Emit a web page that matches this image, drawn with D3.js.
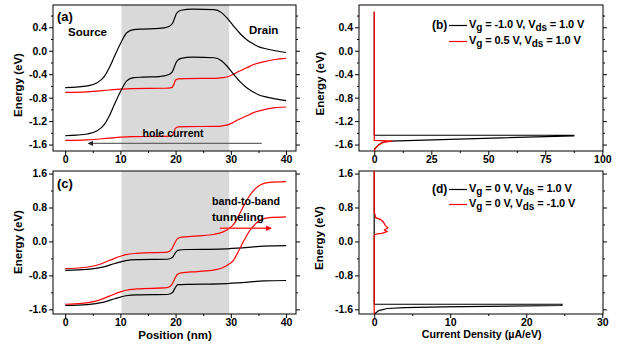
<html>

<head>
    <script src="https://cdn.jsdelivr.net/npm/d3@7"></script>
    <style>
        body { margin: 0; background: #fff; }
        text { font-family: "Liberation Sans", Arial, sans-serif; font-weight: bold; fill: #000; }
    </style>
</head>

<body></body>
<script>

    // ---- data ----
    // band edges vs position (nm, eV), panel (a)
    var aBlackCB = [[0,-0.63],[2,-0.62],[4,-0.60],[5.7,-0.55],[7,-0.45],[8.1,-0.27],[9,-0.08],[10,0.12],[11.2,0.31],[12.4,0.36],[14,0.37],[17,0.38],[18.7,0.41],[19.4,0.46],[19.8,0.55],[20.2,0.64],[21,0.69],[23,0.71],[27,0.70],[28.3,0.65],[29.3,0.56],[30.5,0.42],[31.7,0.29],[33,0.18],[34,0.12],[35,0.07],[36.5,0.03],[38,0.0],[40,-0.03]];
    var aBlackVB = [[0,-1.45],[2,-1.44],[4,-1.42],[5.7,-1.37],[7,-1.27],[8.1,-1.09],[9,-0.90],[10,-0.70],[11.2,-0.51],[12.4,-0.46],[14,-0.45],[17,-0.44],[18.7,-0.41],[19.4,-0.36],[19.8,-0.27],[20.2,-0.18],[21,-0.13],[23,-0.11],[27,-0.12],[28.3,-0.17],[29.3,-0.26],[30.5,-0.40],[31.7,-0.53],[33,-0.64],[34,-0.70],[35,-0.75],[36.5,-0.79],[38,-0.82],[40,-0.85]];
    var aRedCB = [[0,-0.71],[4,-0.70],[8,-0.67],[10,-0.655],[12,-0.645],[18,-0.64],[19.3,-0.63],[19.7,-0.57],[20,-0.50],[20.5,-0.48],[22,-0.475],[27,-0.47],[28.5,-0.46],[29.6,-0.44],[30.5,-0.40],[31.5,-0.35],[32.9,-0.29],[34,-0.24],[35.9,-0.19],[38,-0.15],[40,-0.13]];
    var aRedVB = [[0,-1.53],[4,-1.52],[8,-1.49],[10,-1.475],[12,-1.465],[18,-1.46],[19.3,-1.45],[19.7,-1.39],[20,-1.32],[20.5,-1.30],[22,-1.295],[27,-1.29],[28.5,-1.28],[29.6,-1.26],[30.5,-1.22],[31.5,-1.17],[32.9,-1.11],[34,-1.06],[35.9,-1.01],[38,-0.97],[40,-0.96]];

    // panel (c)
    var cBlackCB = [[0,-0.68],[4,-0.66],[7,-0.60],[9,-0.52],[11,-0.45],[13,-0.43],[18.5,-0.42],[19.4,-0.38],[19.9,-0.28],[20.4,-0.21],[22,-0.19],[28,-0.18],[32,-0.15],[36,-0.11],[40,-0.10]];
    var cBlackVB = [[0,-1.51],[4,-1.49],[7,-1.43],[9,-1.35],[11,-1.28],[13,-1.26],[18.5,-1.25],[19.4,-1.21],[19.9,-1.10],[20.4,-1.02],[22,-1.01],[28,-1.00],[32,-0.97],[36,-0.93],[40,-0.92]];
    var cRedCB = [[0,-0.64],[3,-0.62],[6,-0.55],[8,-0.45],[10,-0.35],[11,-0.31],[13,-0.28],[18.5,-0.25],[19.3,-0.18],[19.8,-0.05],[20.3,0.06],[21,0.10],[24,0.13],[27,0.17],[28.5,0.22],[29.5,0.29],[30.5,0.40],[31.5,0.63],[32.5,0.88],[33.5,1.10],[34.5,1.25],[35.5,1.34],[37,1.39],[40,1.41]];
    var cRedVB = [[0,-1.48],[3,-1.46],[6,-1.39],[8,-1.29],[10,-1.19],[11,-1.15],[13,-1.12],[18.5,-1.09],[19.3,-1.02],[19.8,-0.89],[20.3,-0.78],[21,-0.74],[24,-0.71],[27,-0.67],[28.5,-0.62],[29.5,-0.55],[30.5,-0.44],[31.5,-0.20],[32.5,0.05],[33.5,0.27],[34.5,0.42],[35.5,0.51],[37,0.56],[40,0.58]];

    // current density (uA/eV, eV), panel (b)
    var bBlack = [[0,0.66],[0,-1.441],[87.5,-1.441],[87.5,-1.452],[7,-1.54],[3.5,-1.56],[1.8,-1.61],[0.3,-1.67],[0,-1.71]];
    var bRed = [[0,0.67],[0,-1.53],[8,-1.54],[4,-1.56],[1.8,-1.61],[0.3,-1.67],[0,-1.71]];
    // panel (d)
    var dBlack = [[0,1.64],[0,-1.48],[24.7,-1.48],[24.7,-1.51],[9,-1.54],[4,-1.56],[1.7,-1.58],[0.6,-1.63],[0.15,-1.69],[0,-1.71]];
    var dRed = [[0,1.66],[0,0.70],[0.2,0.56],[0.8,0.52],[1.2,0.46],[1.45,0.38],[1.8,0.32],[1.35,0.27],[1.7,0.23],[1.0,0.19],[0.4,0.18],[0.1,0.16],[0,0.14],[0,-1.71]];

    // ticks
    var posTicks = [0, 10, 20, 30, 40], posMinor = [5, 15, 25, 35];
    var bTicks = [0, 25, 50, 75, 100], bMinor = [12.5, 37.5, 62.5, 87.5];
    var dTicks = [0, 10, 20, 30], dMinor = [5, 15, 25];
    var topE = [0.4, 0.0, -0.4, -0.8, -1.2, -1.6], topEMinor = [0.6, 0.2, -0.2, -0.6, -1.0, -1.4];
    var botE = [1.6, 0.8, 0.0, -0.8, -1.6], botEMinor = [1.2, 0.4, -0.4, -1.2];

    // channel (gate) region, nm
    var gateRegion = [10.2, 29.7];

    var svg = d3.select("body")
        .append("svg")
        .attr("width", 618)
        .attr("height", 347);

    function fmt1(d) { return d.toFixed(1); }

    function makePanel(p) {
        var x = d3.scaleLinear().domain(p.xd).range([p.l, p.r]);
        var y = d3.scaleLinear().domain(p.yd).range([p.b, p.t]);
        var g = svg.append("g");

        if (p.shade) {
            g.append("rect")
                .attr("x", x(p.shade[0]))
                .attr("y", p.t)
                .attr("width", x(p.shade[1]) - x(p.shade[0]))
                .attr("height", p.b - p.t)
                .style("fill", "#d9d9d9");
        }

        // bottom axis
        g.append("g").attr("transform", "translate(0," + p.b + ")")
            .call(d3.axisBottom(x).tickValues(p.xt).tickSize(4).tickSizeOuter(0).tickPadding(1).tickFormat(p.xf));
        g.append("g").attr("transform", "translate(0," + p.b + ")")
            .call(d3.axisBottom(x).tickValues(p.xm).tickSize(2).tickSizeOuter(0).tickFormat(""));
        // left axis
        g.append("g").attr("transform", "translate(" + p.l + ",0)")
            .call(d3.axisLeft(y).tickValues(p.yt).tickSize(4).tickSizeOuter(0).tickPadding(2).tickFormat(fmt1));
        g.append("g").attr("transform", "translate(" + p.l + ",0)")
            .call(d3.axisLeft(y).tickValues(p.ym).tickSize(2).tickSizeOuter(0).tickFormat(""));
        // right mirror
        g.append("g").attr("transform", "translate(" + p.r + ",0)")
            .call(d3.axisRight(y).tickValues(p.yt).tickSize(4).tickSizeOuter(0).tickFormat(""));
        g.append("g").attr("transform", "translate(" + p.r + ",0)")
            .call(d3.axisRight(y).tickValues(p.ym).tickSize(2).tickSizeOuter(0).tickFormat(""));

        g.selectAll(".domain").remove();
        g.selectAll(".tick line").style("stroke", "#000");
        g.selectAll(".tick text").style("font-size", "10.5px")
            .style("font-family", "'Liberation Sans', Arial, sans-serif").style("font-weight", "bold");

        g.append("rect")
            .attr("x", p.l).attr("y", p.t)
            .attr("width", p.r - p.l).attr("height", p.b - p.t)
            .style("fill", "none").style("stroke", "#000").style("stroke-width", 1);

        return { g: g, x: x, y: y };
    }

    function drawLine(P, data, color, curve) {
        var line = d3.line()
            .x(function (d) { return P.x(d[0]); })
            .y(function (d) { return P.y(d[1]); })
            .curve(curve || d3.curveLinear);
        P.g.append("path")
            .datum(data)
            .attr("d", line)
            .style("fill", "none")
            .style("stroke", color)
            .style("stroke-width", 1.2);
    }

    function label(x, y, str, size) {
        return svg.append("text").attr("x", x).attr("y", y)
            .style("font-size", size + "px").text(str);
    }

    function yTitle(x, y) {
        svg.append("text")
            .attr("transform", "translate(" + x + "," + y + ") rotate(-90)")
            .style("text-anchor", "middle")
            .style("font-size", "11.5px")
            .text("Energy (eV)");
    }

    // legend row: V_g = ..., V_ds = ...
    function legendRow(x, y, color, vg, vds) {
        svg.append("line")
            .attr("x1", x - 20).attr("x2", x - 2)
            .attr("y1", y - 2.5).attr("y2", y - 2.5)
            .style("stroke", color).style("stroke-width", 1.2);
        var t = svg.append("text").attr("x", x).attr("y", y)
            .style("font-size", "11px").style("letter-spacing", "-0.1px");
        t.append("tspan").text("V");
        t.append("tspan").attr("dy", 3).style("font-size", "10px").text("g");
        t.append("tspan").attr("dy", -3).text(" = " + vg + ", V");
        t.append("tspan").attr("dy", 3).style("font-size", "10px").text("ds");
        t.append("tspan").attr("dy", -3).text(" = " + vds);
    }

    // ---- panels ----
    var A = makePanel({ l: 53, r: 296, t: 5, b: 151, xd: [-2.2, 41.8], yd: [-1.71, 0.78],
        xt: posTicks, xm: posMinor, yt: topE, ym: topEMinor, shade: gateRegion, xf: d3.format("d") });
    var B = makePanel({ l: 359, r: 603, t: 5, b: 151, xd: [-6.7, 100.3], yd: [-1.71, 0.78],
        xt: bTicks, xm: bMinor, yt: topE, ym: topEMinor, xf: d3.format("d") });
    var C = makePanel({ l: 53, r: 296, t: 171, b: 314, xd: [-2.2, 41.8], yd: [-1.71, 1.66],
        xt: posTicks, xm: posMinor, yt: botE, ym: botEMinor, shade: gateRegion, xf: d3.format("d") });
    var D = makePanel({ l: 359, r: 603, t: 171, b: 314, xd: [-2, 30.1], yd: [-1.71, 1.66],
        xt: dTicks, xm: dMinor, yt: botE, ym: botEMinor, xf: d3.format("d") });

    // band diagrams
    drawLine(A, aRedCB, "#ff0000", d3.curveMonotoneX);
    drawLine(A, aRedVB, "#ff0000", d3.curveMonotoneX);
    drawLine(A, aBlackCB, "#000", d3.curveMonotoneX);
    drawLine(A, aBlackVB, "#000", d3.curveMonotoneX);

    drawLine(C, cBlackCB, "#000", d3.curveMonotoneX);
    drawLine(C, cBlackVB, "#000", d3.curveMonotoneX);
    drawLine(C, cRedCB, "#ff0000", d3.curveMonotoneX);
    drawLine(C, cRedVB, "#ff0000", d3.curveMonotoneX);

    // current spectra
    drawLine(B, bBlack, "#000");
    drawLine(B, bRed, "#ff0000");
    drawLine(D, dBlack, "#000");
    drawLine(D, dRed, "#ff0000");

    // arrows
    var defs = svg.append("defs");
    defs.append("marker").attr("id", "headGrey")
        .attr("viewBox", "0 0 10 10").attr("refX", 9).attr("refY", 5)
        .attr("markerWidth", 5).attr("markerHeight", 4).attr("orient", "auto")
        .append("path").attr("d", "M0,0L10,5L0,10z").style("fill", "#222");
    defs.append("marker").attr("id", "headRed")
        .attr("viewBox", "0 0 10 10").attr("refX", 9).attr("refY", 5)
        .attr("markerWidth", 5).attr("markerHeight", 4).attr("orient", "auto")
        .append("path").attr("d", "M0,0L10,5L0,10z").style("fill", "#ff0000");

    svg.append("line")
        .attr("x1", A.x(35.6)).attr("x2", A.x(4.2))
        .attr("y1", A.y(-1.58)).attr("y2", A.y(-1.58))
        .style("stroke", "#666").style("stroke-width", 1.3)
        .attr("marker-end", "url(#headGrey)");
    svg.append("line")
        .attr("x1", C.x(28)).attr("x2", C.x(37.3))
        .attr("y1", C.y(0.31)).attr("y2", C.y(0.31))
        .style("stroke", "#ff3333").style("stroke-width", 1.4)
        .attr("marker-end", "url(#headRed)");

    // text labels
    label(57, 21, "(a)", 13);
    label(68, 36, "Source", 11.5);
    label(249, 34, "Drain", 11.5);
    label(142.5, 136.5, "hole current", 11).attr("textLength", 61).attr("lengthAdjust", "spacingAndGlyphs");
    label(57, 188, "(c)", 13);
    label(212, 205, "band-to-band", 11.5).attr("textLength", 68).attr("lengthAdjust", "spacingAndGlyphs");
    label(212, 220.5, "tunneling", 11.5);

    yTitle(21.5, 85);
    yTitle(323.5, 83.5);
    yTitle(21.5, 242);
    yTitle(323, 238);

    svg.append("text").attr("x", 175).attr("y", 338.5).style("text-anchor", "middle")
        .style("font-size", "11.5px").text("Position (nm)");
    svg.append("text").attr("x", 421.7).attr("y", 338.3)
        .style("font-size", "11.5px").attr("textLength", 120).attr("lengthAdjust", "spacingAndGlyphs")
        .text("Current Density (\u00b5A/eV)");

    // legends
    label(432, 28.5, "(b)", 12);
    legendRow(469, 28, "#000", "-1.0 V", "1.0 V");
    legendRow(469, 44, "#ff0000", "0.5 V", "1.0 V");

    label(432, 193, "(d)", 12);
    legendRow(469, 192, "#000", "0 V", "1.0 V");
    legendRow(469, 207, "#ff0000", "0 V", "-1.0 V");

</script>

</html>
